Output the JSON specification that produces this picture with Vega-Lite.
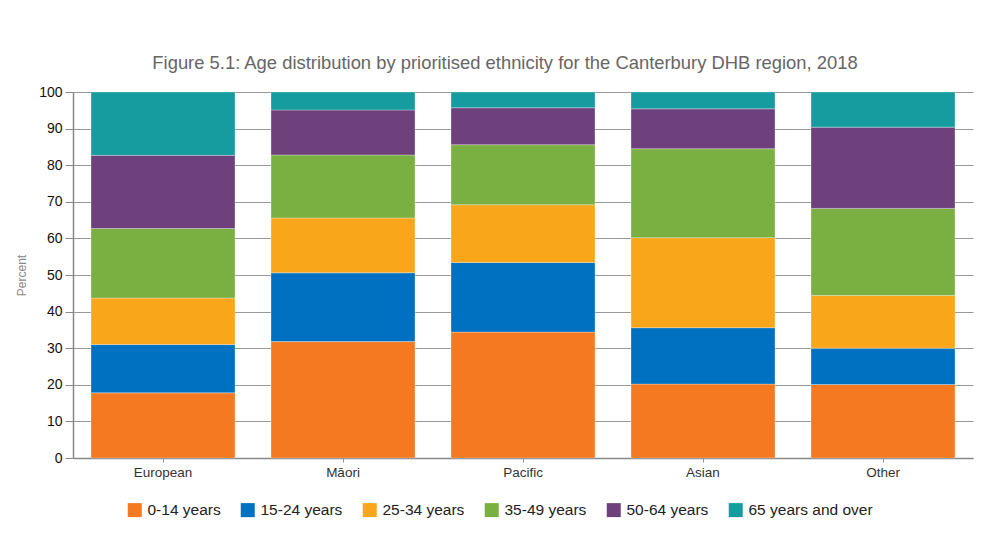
{
  "$schema": "https://vega.github.io/schema/vega-lite/v6.json",
  "width": 900,
  "height": 366,
  "autosize": "none",
  "padding": {"left": 73, "top": 92, "right": 19, "bottom": 77},
  "background": "white",
  "title": {
    "text": "Figure 5.1: Age distribution by prioritised ethnicity for the Canterbury DHB region, 2018",
    "font": "Liberation Sans",
    "fontSize": 18.4,
    "fontWeight": "normal",
    "color": "#666666",
    "anchor": "middle",
    "dx": -18,
    "offset": 13
  },
  "data": {
    "values": [
      {"ethnicity": "European", "age": "0-14 years", "pct": 17.8},
      {"ethnicity": "European", "age": "15-24 years", "pct": 13.2},
      {"ethnicity": "European", "age": "25-34 years", "pct": 12.7},
      {"ethnicity": "European", "age": "35-49 years", "pct": 19.0},
      {"ethnicity": "European", "age": "50-64 years", "pct": 20.0},
      {"ethnicity": "European", "age": "65 years and over", "pct": 17.3},
      {"ethnicity": "Māori", "age": "0-14 years", "pct": 31.8},
      {"ethnicity": "Māori", "age": "15-24 years", "pct": 18.8},
      {"ethnicity": "Māori", "age": "25-34 years", "pct": 15.0},
      {"ethnicity": "Māori", "age": "35-49 years", "pct": 17.2},
      {"ethnicity": "Māori", "age": "50-64 years", "pct": 12.3},
      {"ethnicity": "Māori", "age": "65 years and over", "pct": 4.9},
      {"ethnicity": "Pacific", "age": "0-14 years", "pct": 34.4},
      {"ethnicity": "Pacific", "age": "15-24 years", "pct": 19.0},
      {"ethnicity": "Pacific", "age": "25-34 years", "pct": 15.8},
      {"ethnicity": "Pacific", "age": "35-49 years", "pct": 16.4},
      {"ethnicity": "Pacific", "age": "50-64 years", "pct": 10.1},
      {"ethnicity": "Pacific", "age": "65 years and over", "pct": 4.3},
      {"ethnicity": "Asian", "age": "0-14 years", "pct": 20.2},
      {"ethnicity": "Asian", "age": "15-24 years", "pct": 15.4},
      {"ethnicity": "Asian", "age": "25-34 years", "pct": 24.6},
      {"ethnicity": "Asian", "age": "35-49 years", "pct": 24.3},
      {"ethnicity": "Asian", "age": "50-64 years", "pct": 10.9},
      {"ethnicity": "Asian", "age": "65 years and over", "pct": 4.6},
      {"ethnicity": "Other", "age": "0-14 years", "pct": 20.1},
      {"ethnicity": "Other", "age": "15-24 years", "pct": 9.9},
      {"ethnicity": "Other", "age": "25-34 years", "pct": 14.4},
      {"ethnicity": "Other", "age": "35-49 years", "pct": 23.8},
      {"ethnicity": "Other", "age": "50-64 years", "pct": 22.2},
      {"ethnicity": "Other", "age": "65 years and over", "pct": 9.6}
    ]
  },
  "mark": {"type": "bar", "stroke": "#ffffff", "strokeWidth": 0.5, "strokeOpacity": 0.6},
  "encoding": {
    "x": {
      "field": "ethnicity",
      "type": "nominal",
      "sort": ["European", "Māori", "Pacific", "Asian", "Other"],
      "scale": {"paddingInner": 0.2, "paddingOuter": 0.1},
      "axis": {
        "title": null,
        "labelAngle": 0,
        "labelFont": "Liberation Sans",
        "labelFontSize": 13.5,
        "labelColor": "#333333",
        "labelPadding": 3,
        "tickSize": 4,
        "tickColor": "#999999",
        "domainColor": "#888888",
        "domainWidth": 1.5,
        "grid": false
      }
    },
    "y": {
      "field": "pct",
      "type": "quantitative",
      "stack": "zero",
      "scale": {"domain": [0, 100], "nice": false},
      "axis": {
        "title": "Percent",
        "titleFont": "Liberation Sans",
        "titleFontSize": 12,
        "titleFontWeight": "normal",
        "titleColor": "#888888",
        "titlePadding": 10,
        "labelFont": "Liberation Sans",
        "labelFontSize": 14,
        "labelColor": "#111111",
        "labelPadding": 3,
        "labelOverlap": false,
        "values": [0, 10, 20, 30, 40, 50, 60, 70, 80, 90, 100],
        "tickSize": 8,
        "tickColor": "#888888",
        "domainColor": "#888888",
        "domainWidth": 1.5,
        "gridColor": "#999999",
        "gridWidth": 1
      }
    },
    "color": {
      "field": "age",
      "type": "nominal",
      "scale": {
        "domain": ["0-14 years", "15-24 years", "25-34 years", "35-49 years", "50-64 years", "65 years and over"],
        "range": ["#F47920", "#0070C0", "#F9A61B", "#7AAF41", "#6E407C", "#169B9E"]
      },
      "legend": {
        "title": null,
        "orient": "none",
        "legendX": 54,
        "legendY": 410,
        "direction": "horizontal",
        "symbolType": "square",
        "symbolSize": 196,
        "symbolStrokeWidth": 0,
        "labelFont": "Liberation Sans",
        "labelFontSize": 15.5,
        "labelColor": "#222222",
        "columnPadding": 19,
        "labelOffset": 5
      }
    },
    "order": {"field": "age", "sort": "ascending"}
  },
  "config": {"view": {"stroke": null}}
}
